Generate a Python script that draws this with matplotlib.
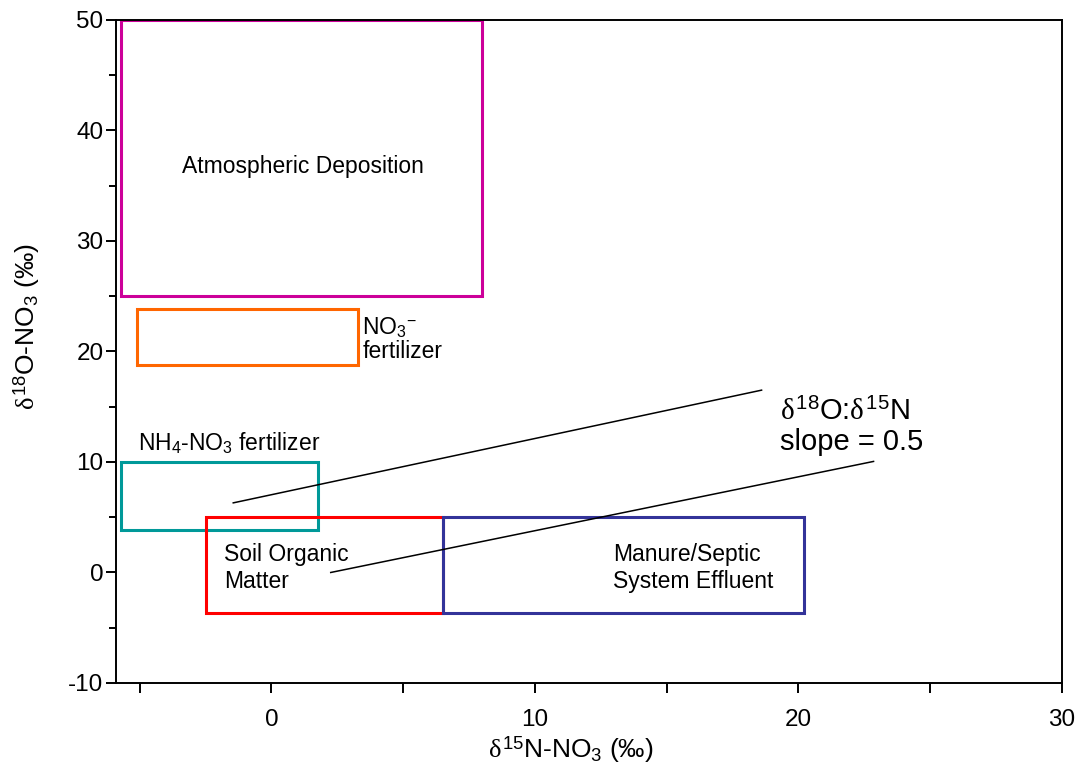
import matplotlib.pyplot as plt
from matplotlib.patches import Rectangle

plt.rcParams["font.family"] = ["Liberation Sans", "DejaVu Sans"]
plt.rcParams["mathtext.fontset"] = "custom"
plt.rcParams["mathtext.rm"] = "Liberation Sans"
plt.rcParams["mathtext.it"] = "Liberation Serif"
plt.rcParams["axes.unicode_minus"] = False

# Source fields: (x0, x1, y0, y1) in per mil
source_names = ["Atmospheric", "NO3 fertilizer", "NH4-NO3 fertilizer",
                "Soil Organic Matter", "Manure/Septic"]
n15_min = [-5.7, -5.1, -5.7, -2.5, 6.5]
n15_max = [8.0, 3.3, 1.75, 6.5, 20.2]
o18_min = [25.0, 18.8, 3.8, -3.7, -3.7]
o18_max = [50.0, 23.8, 10.0, 5.0, 5.0]
box_colors = ["#CC0099", "#FF6600", "#009999", "#FF0000", "#333399"]

# Denitrification trend lines (slope ~0.5)
trend1_x = [-1.45, 18.6]
trend1_y = [6.3, 16.5]
trend2_x = [2.25, 22.85]
trend2_y = [0.0, 10.05]

fig = plt.figure(figsize=(10.8, 7.68), dpi=100)
ax = fig.add_axes([0.1074, 0.1107, 0.8759, 0.8633])

for x0, x1, y0, y1, c in zip(n15_min, n15_max, o18_min, o18_max, box_colors):
    ax.add_patch(Rectangle((x0, y0), x1 - x0, y1 - y0, fill=False,
                           edgecolor=c, linewidth=2.2, zorder=2))

ax.plot(trend1_x, trend1_y, color="black", linewidth=1.1, zorder=3)
ax.plot(trend2_x, trend2_y, color="black", linewidth=1.1, zorder=3)

ax.set_xlim(-5.9, 30)
ax.set_ylim(-10, 50)
ax.set_xticks([0, 10, 20, 30])
ax.set_xticks([-5, 5, 15, 25], minor=True)
ax.set_yticks([-10, 0, 10, 20, 30, 40, 50])
ax.set_yticks([-5, 5, 15, 25, 35, 45], minor=True)
ax.tick_params(axis="both", which="major", labelsize=17.5, width=1.4,
               length=7, direction="out")
ax.tick_params(axis="x", which="major", pad=12)
ax.tick_params(axis="y", which="major", pad=2)
ax.tick_params(axis="x", which="minor", width=1.4, length=7)
ax.tick_params(axis="y", which="minor", width=1.4, length=5)
for s in ax.spines.values():
    s.set_linewidth(1.4)

ax.set_xlabel(r"$\delta^{15}$N-NO$_3$ (‰)", fontsize=19)
ax.xaxis.set_label_coords(0.481, -0.077)
ax.set_ylabel(r"$\delta^{18}$O-NO$_3$ (‰)", fontsize=19)
ax.yaxis.set_label_coords(-0.078, 0.537)

fs = 16.5
ax.text(1.2, 36.7, "Atmospheric Deposition", fontsize=fs, ha="center", va="center")
ax.text(3.45, 21.1, "NO$_3$$^{-}$\nfertilizer", fontsize=fs, ha="left", va="center",
        linespacing=1.0)
ax.text(-5.05, 11.7, "NH$_4$-NO$_3$ fertilizer", fontsize=fs, ha="left", va="center")
ax.text(-1.8, 0.4, "Soil Organic\nMatter", fontsize=fs, ha="left", va="center",
        linespacing=1.2)
ax.text(12.95, 0.4, "Manure/Septic\nSystem Effluent", fontsize=fs, ha="left",
        va="center", linespacing=1.2)
ax.text(19.3, 13.2, r"$\delta^{18}$O:$\delta^{15}$N" + "\nslope = 0.5",
        fontsize=21, ha="left", va="center", linespacing=1.1)

fig.savefig("out.png", dpi=100)
